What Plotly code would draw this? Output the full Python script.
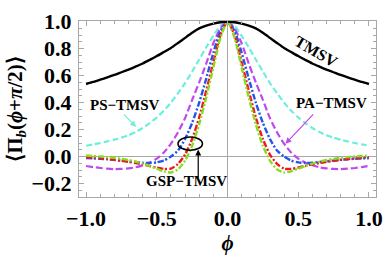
import plotly.graph_objects as go

phi = [-1.0, -0.95, -0.9, -0.85, -0.8, -0.75, -0.7, -0.65, -0.6, -0.55, -0.5, -0.45, -0.4, -0.35, -0.3, -0.25, -0.2, -0.15, -0.1, -0.05,
       0.0, 0.05, 0.1, 0.15, 0.2, 0.25, 0.3, 0.35, 0.4, 0.45, 0.5, 0.55, 0.6, 0.65, 0.7, 0.75, 0.8, 0.85, 0.9, 0.95, 1.0]

tmsv = [0.538, 0.553, 0.57, 0.587, 0.605, 0.625, 0.645, 0.667, 0.69, 0.717, 0.745, 0.775, 0.805, 0.842, 0.88, 0.918, 0.95, 0.97, 0.985, 0.996,
        1.0, 0.996, 0.985, 0.97, 0.95, 0.918, 0.88, 0.842, 0.805, 0.775, 0.745, 0.717, 0.69, 0.667, 0.645, 0.625, 0.605, 0.587, 0.57, 0.553, 0.538]

ps_tmsv = [0.08, 0.09, 0.1, 0.112, 0.125, 0.14, 0.158, 0.182, 0.212, 0.248, 0.29, 0.34, 0.40, 0.47, 0.545, 0.63, 0.72, 0.81, 0.895, 0.97,
           1.0, 0.97, 0.895, 0.81, 0.72, 0.63, 0.545, 0.47, 0.40, 0.34, 0.29, 0.248, 0.212, 0.182, 0.158, 0.14, 0.125, 0.112, 0.1, 0.09, 0.08]

pa_tmsv = [-0.07, -0.078, -0.085, -0.09, -0.093, -0.092, -0.088, -0.08, -0.065, -0.045, -0.015, 0.03, 0.095, 0.18, 0.285, 0.42, 0.55, 0.69, 0.84, 0.95,
           1.0, 0.95, 0.84, 0.69, 0.55, 0.42, 0.285, 0.18, 0.095, 0.03, -0.015, -0.045, -0.065, -0.08, -0.088, -0.092, -0.093, -0.09, -0.085, -0.078, -0.07]

gsp_blue = [-0.012, -0.014, -0.017, -0.02, -0.025, -0.03, -0.035, -0.04, -0.046, -0.048, -0.043, -0.03, 0.0, 0.045, 0.13, 0.25, 0.40, 0.58, 0.77, 0.93,
            1.0, 0.93, 0.77, 0.58, 0.40, 0.25, 0.13, 0.045, 0.0, -0.03, -0.043, -0.048, -0.046, -0.04, -0.035, -0.03, -0.025, -0.02, -0.017, -0.014, -0.012]

gsp_red = [-0.005, -0.008, -0.013, -0.018, -0.025, -0.032, -0.04, -0.048, -0.058, -0.07, -0.082, -0.092, -0.09, -0.055, 0.015, 0.13, 0.29, 0.49, 0.70, 0.90,
           1.0, 0.90, 0.70, 0.49, 0.29, 0.13, 0.015, -0.055, -0.09, -0.092, -0.082, -0.07, -0.058, -0.048, -0.04, -0.032, -0.025, -0.018, -0.013, -0.008, -0.005]

gsp_green = [0.008, 0.004, 0.0, -0.004, -0.01, -0.017, -0.026, -0.038, -0.052, -0.07, -0.09, -0.11, -0.118, -0.095, -0.03, 0.08, 0.24, 0.44, 0.66, 0.88,
             1.0, 0.88, 0.66, 0.44, 0.24, 0.08, -0.03, -0.095, -0.118, -0.11, -0.09, -0.07, -0.052, -0.038, -0.026, -0.017, -0.01, -0.004, 0.0, 0.004, 0.008]

x_ticks = [-1.0, -0.5, 0.0, 0.5, 1.0]
y_ticks = [-0.2, 0.0, 0.2, 0.4, 0.6, 0.8, 1.0]

SERIF = "Liberation Serif, Times New Roman, serif"

fig = go.Figure()
series = [
    (ps_tmsv, "#6eeedc", "6px,3px", 2.2),
    (pa_tmsv, "#bf48f0", "7px,3px", 2.2),
    (gsp_blue, "#2255ee", "6px,2px,2px,2px", 2.4),
    (gsp_red, "#ee1a1a", "6px,2px,2px,2px", 2.4),
    (gsp_green, "#88dd22", "6px,2px,2px,2px", 2.4),
    (tmsv, "#000000", "solid", 2.4),
]
for ys, col, dash, w in series:
    fig.add_trace(go.Scatter(x=phi, y=ys, mode="lines",
                             line=dict(color=col, width=w, dash=dash, shape="spline", smoothing=0.6),
                             showlegend=False, hoverinfo="skip"))

lab_font = dict(family=SERIF, size=15, color="black", weight="bold")
fig.add_annotation(x=0.628, y=0.78, text="TMSV", showarrow=False, textangle=30,
                   font=dict(family=SERIF, size=16, color="black", weight="bold"))
fig.add_annotation(x=0.733, y=0.40, text="PA−TMSV", showarrow=False, font=lab_font)
fig.add_annotation(x=-0.723, y=0.38, text="PS−TMSV", showarrow=False, font=lab_font)
fig.add_annotation(x=-0.287, y=-0.183, text="GSP−TMSV", showarrow=False, font=lab_font)

# arrows
fig.add_annotation(x=-0.646, y=0.219, ax=-0.743, ay=0.324, axref="x", ayref="y", xref="x", yref="y",
                   text="", showarrow=True, arrowhead=2, arrowsize=1, arrowwidth=1.2, arrowcolor="#6eeedc")
fig.add_annotation(x=0.41, y=0.095, ax=0.616, ay=0.324, axref="x", ayref="y", xref="x", yref="y",
                   text="", showarrow=True, arrowhead=2, arrowsize=1, arrowwidth=1.2, arrowcolor="#bf48f0")
fig.add_annotation(x=-0.207, y=0.053, ax=-0.207, ay=-0.169, axref="x", ayref="y", xref="x", yref="y",
                   text="", showarrow=True, arrowhead=2, arrowsize=1, arrowwidth=1.2, arrowcolor="black")
fig.add_shape(type="circle", xref="x", yref="y", x0=-0.35, x1=-0.177, y0=0.047, y1=0.144,
              line=dict(color="black", width=1.5))

axis_common = dict(showgrid=False, zeroline=True, zerolinecolor="#a8a8a8", zerolinewidth=1,
                   showline=True, linecolor="#a8a8a8", linewidth=1, mirror="ticks",
                   ticks="inside", ticklen=5, tickcolor="#a8a8a8",
                   tickfont=dict(family=SERIF, size=22, color="black", weight="bold"))

fig.update_xaxes(range=[-1.05, 1.05], tickvals=x_ticks, ticktext=[f"{v:.1f}".replace("-", "−") for v in x_ticks],
                 minor=dict(dtick=0.1, tick0=0, ticks="inside", ticklen=3, tickcolor="#a8a8a8"),
                 ticklabelstandoff=2,
                 title=dict(text="<i>ϕ</i>", font=dict(family=SERIF, size=21, color="black", weight="bold"), standoff=4),
                 **axis_common)
fig.update_yaxes(range=[-0.30, 1.005], tickvals=y_ticks, ticktext=[f"{v:.1f}".replace("-", "−") for v in y_ticks],
                 minor=dict(dtick=0.05, tick0=0, ticks="inside", ticklen=3, tickcolor="#a8a8a8"),
                 ticklabelstandoff=2,
                 title=dict(text="⟨Π<sub><i>b</i></sub>(<i>ϕ</i>+<i>π</i>/2)⟩",
                            font=dict(family=SERIF, size=21, color="black", weight="bold"), standoff=3),
                 **axis_common)

fig.update_layout(width=392, height=259, margin=dict(l=79, r=9, t=12, b=59),
                  plot_bgcolor="white", paper_bgcolor="white")

fig.write_html("out.html", config={"displayModeBar": False},
               post_script="document.body.style.margin='0';document.body.style.padding='0';")
